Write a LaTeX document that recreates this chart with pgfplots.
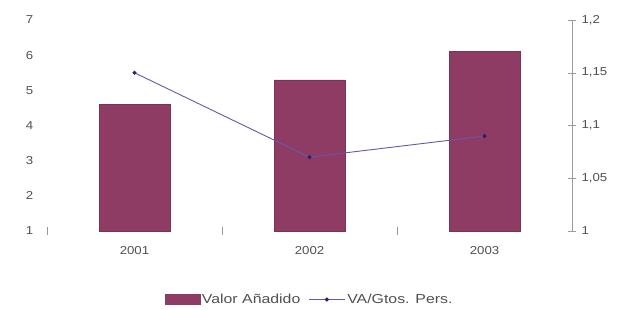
\documentclass[border=0pt]{standalone}
\usepackage{pgfplots}
\pgfplotsset{compat=1.18}
\usepackage{fontspec}
\setmainfont{Liberation Sans}
\newfontfamily\tickfont[FakeStretch=1.15]{Liberation Sans}
\newfontfamily\legfont[FakeStretch=1.22]{Liberation Sans}
\definecolor{barc}{HTML}{8F3C64}
\definecolor{linec}{HTML}{6259AE}
\definecolor{markc}{HTML}{2A2466}
\definecolor{txt}{HTML}{505050}
\definecolor{axc}{HTML}{9A9A9A}
\pgfplotsset{
  common/.style={
    at={(47pt,78pt)}, anchor=south west,
    scale only axis, width=525pt, height=211pt,
    xmin=-0.5, xmax=2.5,
    tick align=center,
    ticklabel style={font=\tickfont\fontsize{11.5}{13}\selectfont, text=txt},
  }
}
\begin{document}
\begin{tikzpicture}
\path[use as bounding box] (0pt,0pt) rectangle (620pt,309pt);
\begin{axis}[
  common,
  ymin=1, ymax=7,
  axis line style={draw=none},
  xtick pos=lower,
  ytick pos=left,
  xtick={0,1,2}, xticklabels={2001,2002,2003},
  major x tick style={draw=none},
  minor xtick={-0.5,0.5,1.5},
  minor x tick style={axc},
  minor tick length=8pt,
  ytick={1,2,3,4,5,6,7}, yticklabels={1,2,3,4,5,6,7},
  major y tick style={draw=none},
  xticklabel style={yshift=-10pt},
  yticklabel style={xshift=-8pt},
]
\addplot[ybar, bar width=71pt, fill=barc, draw=barc!85!black] coordinates {(0,4.6) (1,5.3) (2,6.1)};
\end{axis}
\begin{axis}[
  common,
  ymin=1, ymax=1.2,
  axis x line=none,
  axis y line*=right,
  y axis line style={axc, -},
  ytick={1,1.05,1.1,1.15,1.2}, yticklabels={1,{1,05},{1,1},{1,15},{1,2}},
  major tick length=8pt,
  y tick style={axc},
  yticklabel style={xshift=2pt},
  legend style={at={(0.5,-0.325)}, anchor=center, draw=none, fill=none,
    font=\legfont\fontsize{13}{15}\selectfont, text=txt, legend columns=2,
    /tikz/every even column/.append style={column sep=6pt}},
]
\addlegendimage{legend image code/.code={\fill[barc] (0pt,-5pt) rectangle (35pt,5pt);}}
\addlegendentry{Valor Añadido}
\addplot[linec, line width=0.9pt, mark=*, mark size=1.6pt, mark options={fill=markc, draw=markc},
  legend image code/.code={\draw[linec, line width=0.9pt] (0pt,0pt) -- (36pt,0pt); \fill[markc] (18pt,0pt) circle (1.6pt);}]
  coordinates {(0,1.15) (1,1.07) (2,1.09)};
\addlegendentry{VA/Gtos. Pers.}
\end{axis}
\end{tikzpicture}
\end{document}
